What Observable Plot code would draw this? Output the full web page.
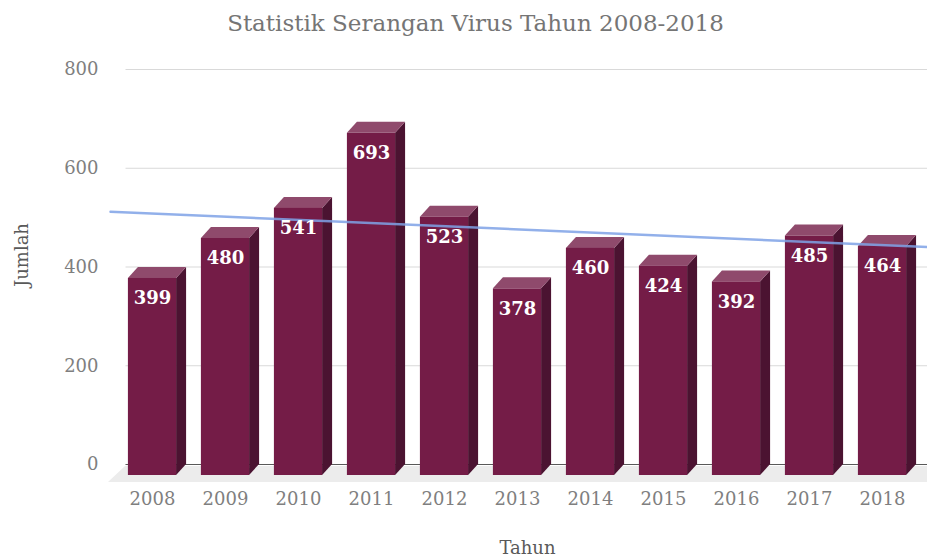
<!DOCTYPE html>
<html><head><meta charset="utf-8">
<script src="https://cdn.jsdelivr.net/npm/d3@7"></script>
<script src="https://cdn.jsdelivr.net/npm/@observablehq/plot@0.6"></script>
<style>body{margin:0;background:#fff} svg{display:block}</style>
</head><body><div id="chart"></div>
<script>
const years = ["2008","2009","2010","2011","2012","2013","2014","2015","2016","2017","2018"];
const values = [399,480,541,693,523,378,460,424,392,485,464];
const yTicks = [0,200,400,600,800];
const title = "Statistik Serangan Virus Tahun 2008-2018";
const xLabel = "Tahun";
const yLabel = "Jumlah";

const data = years.map((year, i) => ({i, year, value: values[i]}));

// linear trendline (least squares), with backward/forward forecast
const mx = d3.mean(data, d => d.i), my = d3.mean(values);
const slope = d3.sum(data, d => (d.i - mx) * (d.value - my)) / d3.sum(data, d => (d.i - mx) ** 2);
const icpt = my - slope * mx;
const backward = 0.575, forward = 0.65;
const trend = [-backward, data.length - 1 + forward].map(i => ({i, v: icpt + slope * i}));

const DX = 10, DY = 11, HALF = 0.33;
const FRONT = "#741C47", TOP = "#8F4A6C", SIDE = "#4B1331";

function floorMark(index, scales, v, dim) {
  const y0 = scales.y(0);
  const l = dim.marginLeft, r = dim.width;
  const p = d3.create("svg:path")
    .attr("fill", "#ececec")
    .attr("d", `M${l - 7.5},${y0 + 18}L${l + 9.5},${y0 + 2}L${r},${y0 + 2}L${r},${y0 + 18}Z`);
  return p.node();
}

function bars3d(index, scales) {
  const g = d3.create("svg:g");
  const x = scales.x, y = scales.y;
  for (const d of data) {
    const xl = x(d.i - HALF), xr = x(d.i + HALF);
    const yt = y(d.value) + DY, yb = y(0) + DY;
    g.append("path").attr("fill", SIDE)
      .attr("d", `M${xr},${yt}L${xr + DX},${yt - DY}L${xr + DX},${yb - DY}L${xr},${yb}Z`);
    g.append("path").attr("fill", TOP)
      .attr("d", `M${xl},${yt}L${xl + DX},${yt - DY}L${xr + DX},${yt - DY}L${xr},${yt}Z`);
    g.append("rect").attr("fill", FRONT)
      .attr("x", xl).attr("y", yt).attr("width", xr - xl).attr("height", yb - yt);
  }
  return g.node();
}

const chart = Plot.plot({
  width: 927,
  height: 559,
  marginTop: 69,
  marginBottom: 95,
  marginLeft: 115.5,
  marginRight: 8.5,
  style: {fontFamily: "DejaVu Serif", background: "#fff"},
  x: {domain: [-0.5, data.length - 0.5], axis: null},
  y: {domain: [0, 800], axis: null},
  marks: [
    Plot.ruleY(yTicks.filter(t => t > 0), {stroke: "#d9d9d9", strokeWidth: 1, dx: DX}),
    floorMark,
    Plot.ruleY([0], {stroke: "#595959", strokeWidth: 1, dx: DX}),
    bars3d,
    Plot.line(trend, {x: "i", y: "v", stroke: "#7fa2e6", strokeWidth: 2.5, strokeOpacity: 0.85}),
    Plot.text(data, {x: "i", y: "value", text: d => String(d.value), dy: DY + 20, fill: "white", fontSize: 18, fontWeight: "bold"}),
    Plot.axisY(yTicks, {tickSize: 0, tickPadding: 17.5, fontSize: 18, fill: "#7f7f7f", label: null}),
    Plot.axisX(d3.range(data.length), {tickFormat: i => years[i], tickSize: 0, tickPadding: 28, fontSize: 18, fill: "#7f7f7f", label: null}),
    Plot.text([yLabel], {frameAnchor: "left", dx: -93.5, dy: 20, rotate: -90, fontSize: 18, fill: "#595959", lineAnchor: "middle"}),
    Plot.text([xLabel], {frameAnchor: "bottom", dx: 10, dy: 84, fontSize: 18, fill: "#595959", lineAnchor: "middle"}),
    Plot.text([title], {frameAnchor: "top", dx: -42, dy: -46, fontSize: 23, fill: "#757575", lineAnchor: "middle"})
  ]
});
document.getElementById("chart").appendChild(chart);
</script>
</body></html>
